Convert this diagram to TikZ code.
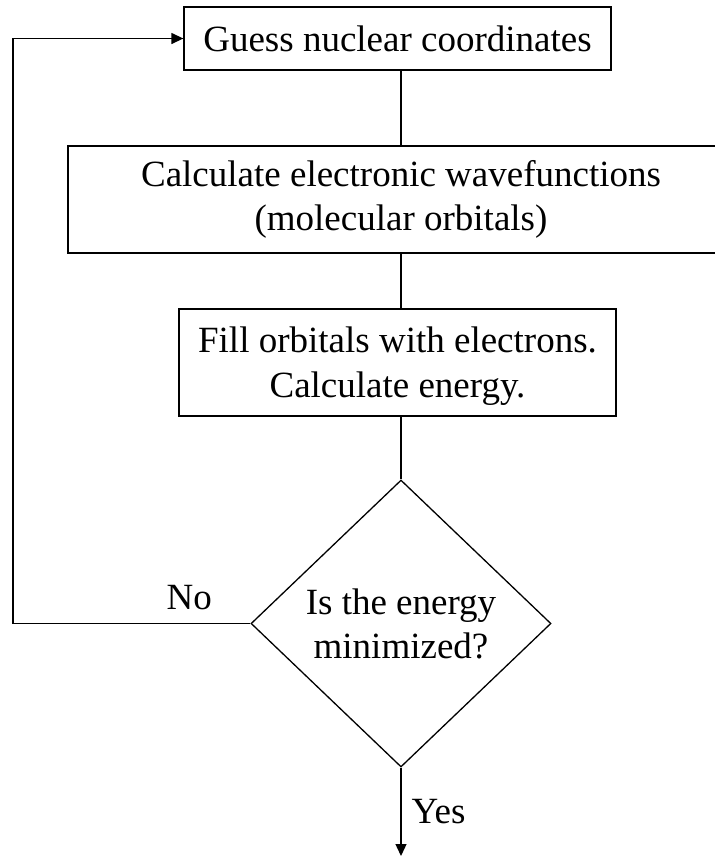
\documentclass[tikz,border=0pt]{standalone}
\usepackage{fontspec}
\setmainfont{Liberation Serif}
\usetikzlibrary{shapes.geometric,arrows.meta}
\begin{document}
\begin{tikzpicture}[x=1pt,y=-1pt,line width=1.3pt,
  box/.style={draw, rectangle, inner sep=0pt, align=center, font=\fontsize{37}{44}\selectfont},
  decision/.style={draw, diamond, inner sep=0pt, align=center, font=\fontsize{37}{44}\selectfont},
  lbl/.style={inner sep=0pt, font=\fontsize{37}{44}\selectfont},
  arr/.style={-{Triangle[length=12pt,width=11pt]}}]
\useasboundingbox (0,0) rectangle (715,857);
\node[box, minimum width=427pt, minimum height=63pt] (b1) at (397.5,38.5) {Guess nuclear coordinates};
\node[box, minimum width=666pt, minimum height=107pt] (b2) at (401,199.5) {Calculate electronic wavefunctions\\(molecular orbitals)};
\node[box, minimum width=437pt, minimum height=107pt, font=\fontsize{37}{45}\selectfont] (b3) at (397.5,362.5) {\rule{0pt}{33pt}Fill orbitals with electrons.\\Calculate energy.};
\node[decision, minimum width=300pt, minimum height=287pt] (d) at (401,623.5) {Is the energy\\minimized?};
\coordinate (lft) at (13,0);
\coordinate (out) at (401,856);
\draw (b2.north) -- (b2.north |- b1.south);
\draw (b2.south) -- (b2.south |- b3.north);
\draw (d.north |- b3.south) -- (d.north);
\draw[arr] (d.west) -- (lft |- d.west) |- (b1.west);
\draw[arr] (d.south) -- (out);
\node[lbl, anchor=base west] (no) at (166,609) {No};
\node[lbl, anchor=base west] (yes) at (411,823) {Yes};
\end{tikzpicture}
\end{document}
